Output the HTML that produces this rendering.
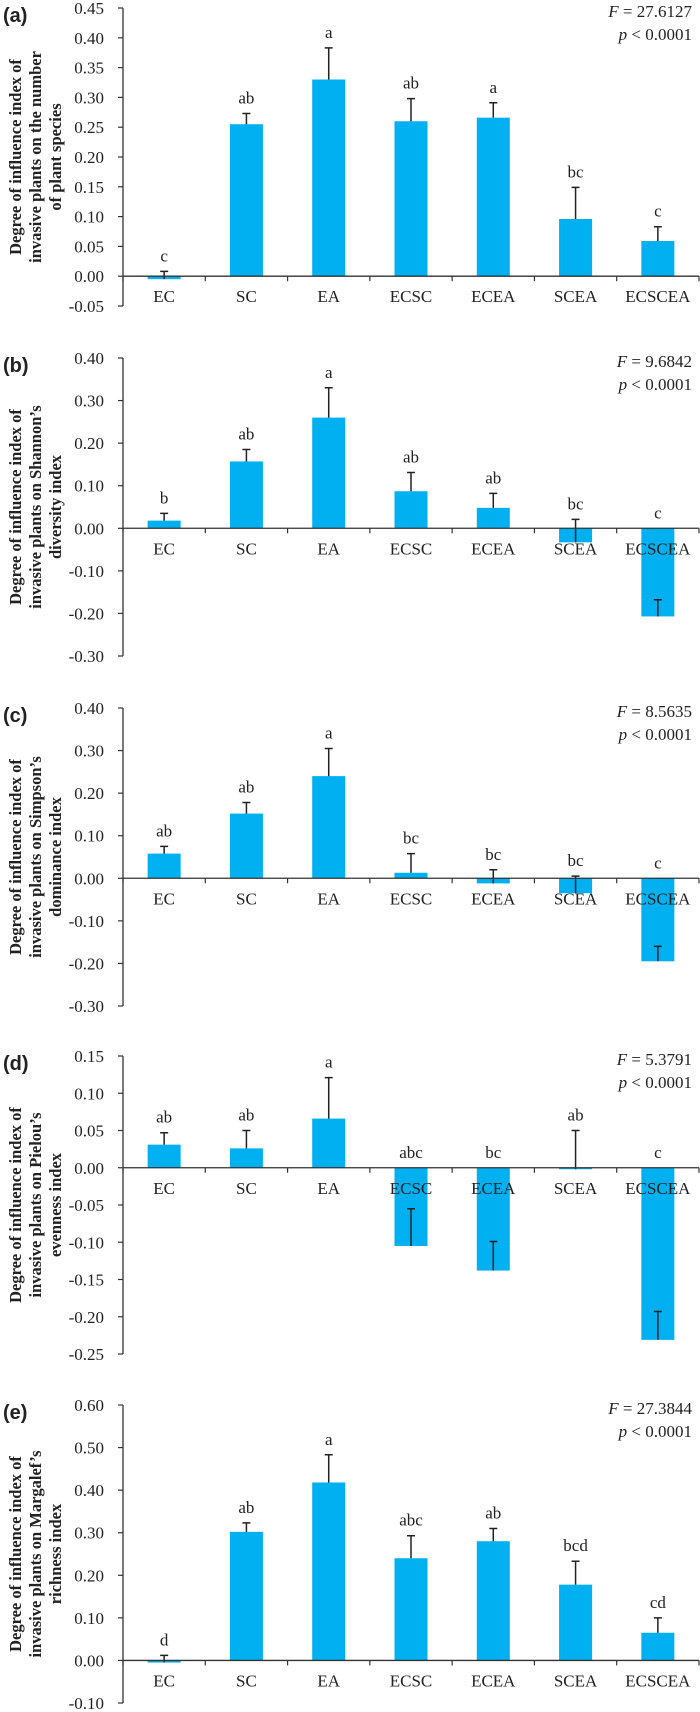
<!DOCTYPE html>
<html><head><meta charset="utf-8"><style>
html,body{margin:0;padding:0;background:#fff;}
svg{display:block;}
text{font-family:"Liberation Serif",serif;fill:#222;}
</style></head><body>
<svg id="chart" width="700" height="1712" xmlns="http://www.w3.org/2000/svg"></svg>
<script>
const categories = ["EC","SC","EA","ECSC","ECEA","SCEA","ECSCEA"];
const valuesA = [-0.005,0.255,0.330,0.260,0.266,0.096,0.059];
const errTopA = [0.008,0.273,0.383,0.298,0.291,0.149,0.083];
const lettersA = ["c","ab","a","ab","a","bc","c"];
const valuesB = [0.018,0.157,0.260,0.087,0.048,-0.033,-0.207];
const errTopB = [0.035,0.185,0.330,0.131,0.082,0.021,-0.168];
const lettersB = ["b","ab","a","ab","ab","bc","c"];
const valuesC = [0.058,0.152,0.240,0.013,-0.012,-0.035,-0.195];
const errTopC = [0.075,0.178,0.305,0.058,0.020,0.005,-0.160];
const lettersC = ["ab","ab","a","bc","bc","bc","c"];
const valuesD = [0.031,0.026,0.066,-0.105,-0.138,-0.002,-0.231];
const errTopD = [0.047,0.050,0.121,-0.055,-0.099,0.050,-0.193];
const lettersD = ["ab","ab","a","abc","bc","ab","c"];
const valuesE = [-0.005,0.302,0.418,0.240,0.280,0.178,0.065];
const errTopE = [0.012,0.323,0.483,0.293,0.310,0.233,0.100];
const lettersE = ["d","ab","a","abc","ab","bcd","cd"];
const ticksA = ["0.45","0.40","0.35","0.30","0.25","0.20","0.15","0.10","0.05","0.00","-0.05"];
const ticksB = ["0.40","0.30","0.20","0.10","0.00","-0.10","-0.20","-0.30"];
const ticksD = ["0.15","0.10","0.05","0.00","-0.05","-0.10","-0.15","-0.20","-0.25"];
const ticksE = ["0.60","0.50","0.40","0.30","0.20","0.10","0.00","-0.10"];
const statsF = ["27.6127","9.6842","8.5635","5.3791","27.3844"];

const panels = [
 {id:"a",top:8,vals:valuesA,err:errTopA,let:lettersA,ticks:ticksA,title:["Degree of influence index of","invasive plants on the number","of plant species"]},
 {id:"b",top:358,vals:valuesB,err:errTopB,let:lettersB,ticks:ticksB,title:["Degree of influence index of","invasive plants on Shannon’s","diversity index"]},
 {id:"c",top:708,vals:valuesC,err:errTopC,let:lettersC,ticks:ticksB,title:["Degree of influence index of","invasive plants on Simpson’s","dominance index"]},
 {id:"d",top:1056,vals:valuesD,err:errTopD,let:lettersD,ticks:ticksD,title:["Degree of influence index of","invasive plants on Pielou’s","evenness index"]},
 {id:"e",top:1405,vals:valuesE,err:errTopE,let:lettersE,ticks:ticksE,title:["Degree of influence index of","invasive plants on Margalef’s","richness index"]}
];
const NS="http://www.w3.org/2000/svg";
const svg=document.getElementById('chart');
function mk(tag,attrs,parent,txt){const e=document.createElementNS(NS,tag);for(const k in attrs)e.setAttribute(k,attrs[k]);if(txt!==undefined)e.textContent=txt;parent.appendChild(e);return e;}
const AX=123, RIGHT=699, H=298, BW=33;
const step=(RIGHT-AX)/categories.length;
panels.forEach((p,pi)=>{
  const g=mk('g',{},svg);
  
  
  const tmax=parseFloat(p.ticks[0]), tmin=parseFloat(p.ticks[p.ticks.length-1]);
  const y=v=>p.top+(tmax-v)/(tmax-tmin)*H;
  const x=i=>AX+step*(i+0.5);
  const y0=y(0);
  // panel label
  const lab=mk('text',{x:3,y:p.top+14,'font-size':20,'font-weight':'bold',style:'font-family:"Liberation Sans",sans-serif'},g,'('+p.id+')');
  
  
  // y title
  const cy=p.top+H/2;
  const tt=mk('text',{transform:`translate(0,${cy}) rotate(-90)`,'font-size':16.5,'font-weight':'bold','text-anchor':'middle'},g);
  
  
  p.title.forEach((l,i)=>mk('tspan',{x:0,y:[21,41,61][i]},tt,l));
  // y axis
  const ya=mk('line',{x1:AX,x2:AX,y1:p.top,y2:p.top+H,stroke:'#333','stroke-width':1.3},g);
  
  
  p.ticks.forEach(t=>{
    const v=parseFloat(t), yy=y(v);
    mk('line',{x1:AX-5,x2:AX,y1:yy,y2:yy,stroke:'#333','stroke-width':1.2},g);
    const tl=mk('text',{x:104,y:yy+6,'font-size':17,'text-anchor':'end'},g,t);
    
    
  });
  // bars
  p.vals.forEach((v,i)=>{
    const cx=x(i);
    const b=mk('rect',{x:cx-BW/2,y:Math.min(y(v),y0),width:BW,height:Math.abs(y(v)-y0),fill:'#00b0f0'},g);
    
    
    const et=y(p.err[i]);
    const e=mk('path',{d:`M${cx} ${y(v)}V${et}M${cx-4} ${et}H${cx+4}`,stroke:'#222','stroke-width':1.5,fill:'none'},g);
    
    
    const ly=Math.min(et,y0)-10;
    const lt=mk('text',{x:cx,y:ly,'font-size':17,'text-anchor':'middle'},g,p.let[i]);
    
    
  });
  // x axis at zero
  const xa=mk('line',{x1:AX,x2:RIGHT,y1:y0,y2:y0,stroke:'#333','stroke-width':1.3},g);
  
  
  for(let i=0;i<=categories.length;i++){const xx=AX+step*i;mk('line',{x1:xx,x2:xx,y1:y0,y2:y0+5,stroke:'#333','stroke-width':1.2},g);}
  categories.forEach((c,i)=>{
    const cl=mk('text',{x:x(i),y:y0+26,'font-size':17,'text-anchor':'middle'},g,c);
    
    
  });
  // stats
  const s1=mk('text',{x:692,y:p.top+9,'font-size':17,'text-anchor':'end'},g);
  
  
  mk('tspan',{'font-style':'italic'},s1,'F');
  mk('tspan',{},s1,' = '+statsF[pi]);
  const s2=mk('text',{x:692,y:p.top+32,'font-size':17,'text-anchor':'end'},g);
  
  
  mk('tspan',{'font-style':'italic'},s2,'p');
  mk('tspan',{},s2,' < 0.0001');
});
</script>
</body></html>
